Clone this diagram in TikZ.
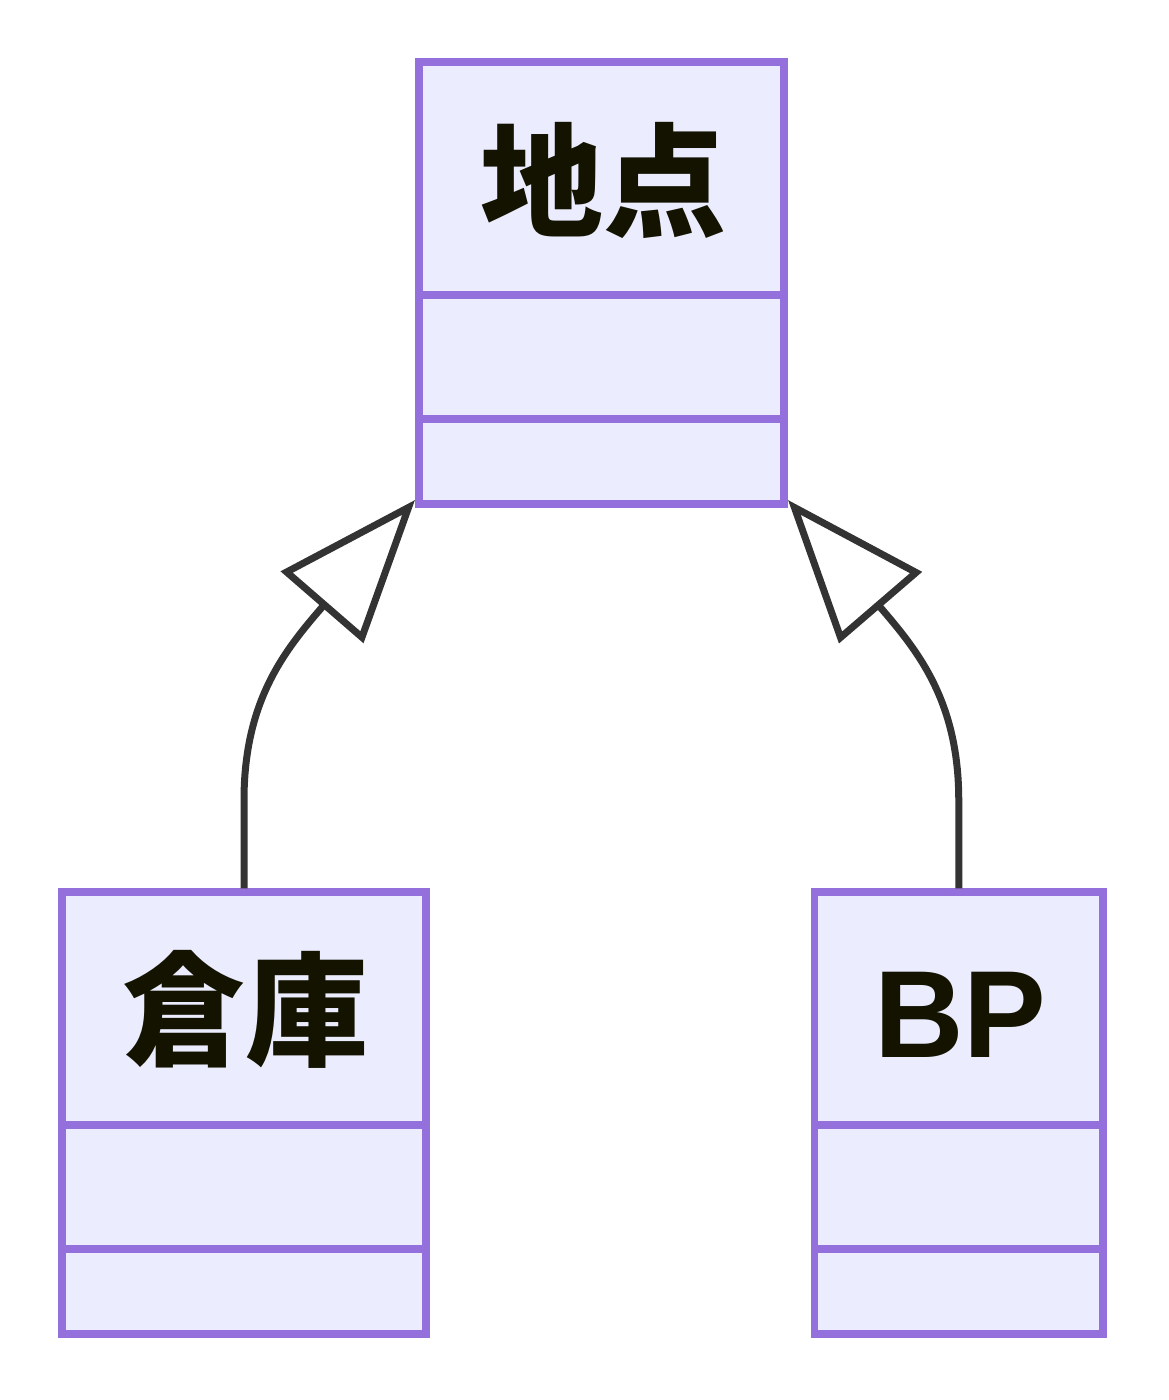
\documentclass[tikz,border=0pt]{standalone}
\usepackage{fontspec}
\setmainfont{Liberation Sans}
\newfontfamily\cjk{Noto Sans CJK JP}
\usetikzlibrary{arrows.meta}
\definecolor{boxfill}{HTML}{ECECFF}
\definecolor{boxline}{HTML}{9370DB}
\definecolor{edgecol}{HTML}{333333}
\definecolor{txt}{HTML}{131300}
\begin{document}
\begin{tikzpicture}[x=0.5pt,y=-0.5pt,
  cls/.style={draw=boxline, fill=boxfill, line width=3.75pt, inner sep=0pt,
    outer sep=0pt, minimum height=221pt, anchor=north},
  divider/.style={draw=boxline, line width=3.75pt},
  title/.style={text=txt, font=\fontsize{62}{70}\selectfont\bfseries, inner sep=0pt},
  cjktitle/.style={title, font=\fontsize{61.5}{70}\selectfont\cjk\bfseries},
  edge/.style={draw=edgecol, line width=3.5pt,
    -{Triangle[open, length=71pt, width=54pt]}}]
\fill[white] (0,0) rectangle (1168,1400);
\useasboundingbox (0,0) rectangle (1168,1400);
% class boxes
\node[cls, minimum width=182.5pt] (pt) at (601.5,62) {};
\node[cls, minimum width=182pt] (wh) at (244,892) {};
\node[cls, minimum width=144.25pt] (bp) at (958.75,892) {};
% compartment dividers
\foreach \b in {pt,wh,bp}{
  \draw[divider] ([yshift=-116.5pt]\b.north west) -- ([yshift=-116.5pt]\b.north east);
  \draw[divider] ([yshift=-178.5pt]\b.north west) -- ([yshift=-178.5pt]\b.north east);
}
% titles
\node[cjktitle] (ptt) at (603,180) {地点};
\node[cjktitle] (wht) at (245.5,1009.5) {倉庫};
\node[title] (bpt) at (960.4,1014.5) {BP};
% inheritance connectors
\coordinate (tipL) at ([shift={(-4,-4)}]pt.south west);
\coordinate (tipR) at ([shift={(4,-4)}]pt.south east);
\draw[edge] ([yshift=1.875pt]wh.north) -- ++(0,-88)
  .. controls ++(0,-100) and (285,650) .. (tipL);
\draw[edge] ([yshift=1.875pt]bp.north) -- ++(0,-88)
  .. controls ++(0,-100) and (917,650) .. (tipR);
\end{tikzpicture}
\end{document}
